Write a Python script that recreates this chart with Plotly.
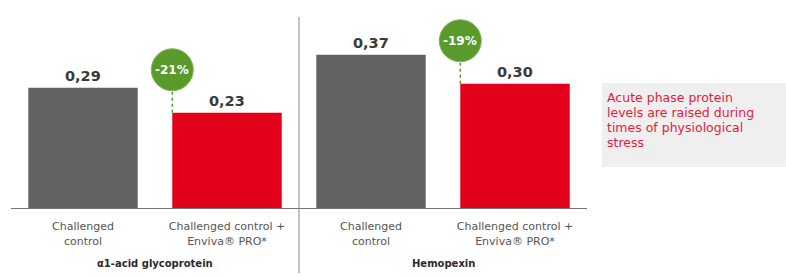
import plotly.graph_objects as go

# ---- data ----
categories = ["Challenged<br>control", "Challenged control +<br>Enviva® PRO*",
              "Challenged<br>control", "Challenged control +<br>Enviva® PRO*"]
groups = ["α1-acid glycoprotein", "Hemopexin"]
control_values = [0.29, 0.37]
treated_values = [0.23, 0.30]
note_lines = ["Acute phase protein", "levels are raised during", "times of physiological", "stress"]

GRAY = "#636363"
RED = "#e2001a"
GREEN = "#5a9a2b"
FONT = "DejaVu Sans"
BAR_W = 0.76

values = []
colors = []
for c, t in zip(control_values, treated_values):
    values += [c, t]
    colors += [GRAY, RED]
xpos = list(range(len(values)))

fig = go.Figure()
fig.add_trace(go.Bar(x=xpos, y=values, width=BAR_W, marker=dict(color=colors, line=dict(width=0)),
                     hoverinfo="skip"))

annotations = []
shapes = []
# value labels
for x, v in zip(xpos, values):
    annotations.append(dict(x=x, y=v, xref="x", yref="y", text=f"{v:.2f}".replace(".", ","),
                            showarrow=False, yanchor="bottom", yshift=2,
                            font=dict(family=FONT, size=14.5, color="#3a3a3a", weight="bold")))

# badges
for g, (c, t) in enumerate(zip(control_values, treated_values)):
    xi = 2 * g + 1 - BAR_W / 2
    pct = round((t - c) / c * 100)
    shapes.append(dict(type="line", xref="x", yref="y", xsizemode="pixel", ysizemode="pixel",
                       xanchor=xi, yanchor=t, x0=0, x1=0, y0=0, y1=24,
                       line=dict(color=GREEN, width=1.5, dash="dot")))
    shapes.append(dict(type="circle", xref="x", yref="y", xsizemode="pixel", ysizemode="pixel",
                       xanchor=xi, yanchor=t, x0=-21, x1=21, y0=22, y1=64,
                       fillcolor=GREEN, line=dict(color="#7cb84e", width=1)))
    annotations.append(dict(x=xi, y=t, xref="x", yref="y", text=f"{pct}%", showarrow=False,
                            yshift=43, font=dict(family=FONT, size=12, color="white", weight="bold")))
    # group label
    annotations.append(dict(x=2 * g + 0.5, y=-0.28, xref="x", yref="paper", text=groups[g],
                            showarrow=False, yanchor="middle",
                            font=dict(family=FONT, size=10, color="#2a2a2a", weight="bold")))

# divider
shapes.append(dict(type="line", xref="x", yref="paper", x0=1.5, x1=1.5, y0=-0.33, y1=0.965,
                   line=dict(color="#8a8a8a", width=1)))
# note box
shapes.append(dict(type="rect", xref="paper", yref="paper", x0=1.026, x1=1.345, y0=0.207, y1=0.631,
                   fillcolor="#efefef", line=dict(width=0), layer="below"))
for i, line in enumerate(note_lines):
    annotations.append(dict(x=1.026, y=0.631, xref="paper", yref="paper", text=line, showarrow=False,
                            xanchor="left", yanchor="middle", align="left", xshift=3,
                            yshift=-14 - 15 * i,
                            font=dict(family=FONT, size=12.5, color="#e8193c")))

fig.update_layout(
    width=786, height=277,
    margin=dict(l=11, r=199, t=10, b=69),
    paper_bgcolor="white", plot_bgcolor="white",
    showlegend=False, bargap=0.24,
    xaxis=dict(range=[-0.5, 3.5], tickmode="array", tickvals=xpos, ticktext=categories,
               showline=True, linecolor="#777", linewidth=1, showgrid=False, zeroline=False,
               ticks="", ticklabelstandoff=8,
               tickfont=dict(family=FONT, size=11, color="#555")),
    yaxis=dict(range=[0, 0.478], visible=False, showgrid=False, zeroline=False),
    shapes=shapes, annotations=annotations,
)
fig.write_html("out.html", config={"displayModeBar": False},
               post_script="document.body.style.margin='0';")
